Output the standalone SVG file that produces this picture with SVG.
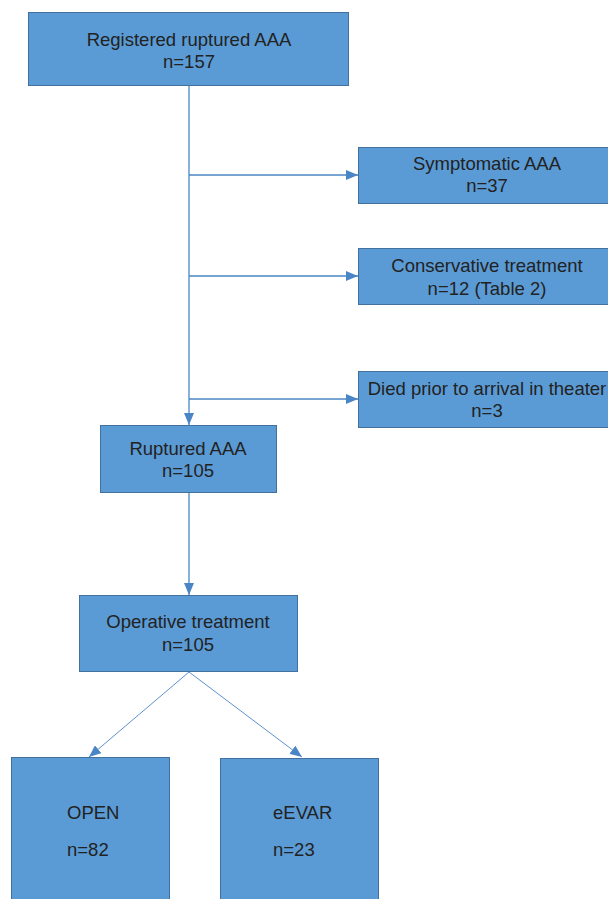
<svg xmlns="http://www.w3.org/2000/svg" width="608" height="899" viewBox="0 0 608 899">
<defs>
<style>
.box{fill:#5b9bd5;stroke:#41719c;stroke-width:1}
.t{font-family:"Liberation Sans",Arial,sans-serif;font-size:18.5px;fill:#222;text-anchor:middle}
.tl{font-family:"Liberation Sans",Arial,sans-serif;font-size:18.5px;fill:#222}
.c{stroke:#4a86c5;stroke-width:1.3;fill:none}
.d{stroke:#4a86c5;stroke-width:0.9;fill:none}
</style>
<marker id="ah" viewBox="0 0 12 10" refX="12" refY="5" markerWidth="12" markerHeight="10" markerUnits="userSpaceOnUse" orient="auto">
<path d="M0,0 L12,5 L0,10 Z" fill="#4a86c5"/>
</marker>
</defs>
<rect width="608" height="899" fill="#fff"/>
<g id="connectors">
<line class="c" x1="189" y1="85" x2="189" y2="425" marker-end="url(#ah)"/>
<line class="c" x1="189" y1="175" x2="358" y2="175" marker-end="url(#ah)"/>
<line class="c" x1="189" y1="276" x2="358" y2="276" marker-end="url(#ah)"/>
<line class="c" x1="189" y1="399" x2="358" y2="399" marker-end="url(#ah)"/>
<line class="c" x1="189" y1="492" x2="189" y2="595" marker-end="url(#ah)"/>
<line class="d" x1="189" y1="672" x2="89" y2="757" marker-end="url(#ah)"/>
<line class="d" x1="189" y1="672" x2="302" y2="757" marker-end="url(#ah)"/>
</g>
<g id="registered">
<rect class="box" x="28.5" y="12.5" width="320" height="73"/>
<text class="t" x="189" y="46">Registered ruptured AAA</text>
<text class="t" x="189" y="68">n=157</text>
</g>
<g id="symptomatic">
<rect class="box" x="358.5" y="147.5" width="252" height="56"/>
<text class="t" x="487" y="170">Symptomatic AAA</text>
<text class="t" x="487" y="192">n=37</text>
</g>
<g id="conservative">
<rect class="box" x="358.5" y="248.5" width="252" height="56"/>
<text class="t" x="487" y="272">Conservative treatment</text>
<text class="t" x="487" y="295">n=12 (Table 2)</text>
</g>
<g id="died">
<rect class="box" x="358.5" y="371.5" width="252" height="56"/>
<text class="t" x="487" y="395">Died prior to arrival in theater</text>
<text class="t" x="487" y="417">n=3</text>
</g>
<g id="ruptured">
<rect class="box" x="100.5" y="425.5" width="176" height="67"/>
<text class="t" x="188" y="455">Ruptured AAA</text>
<text class="t" x="188" y="477">n=105</text>
</g>
<g id="operative">
<rect class="box" x="79.5" y="595.5" width="218" height="76"/>
<text class="t" x="188" y="628">Operative treatment</text>
<text class="t" x="188" y="651">n=105</text>
</g>
<g id="open">
<rect class="box" x="11.5" y="757.5" width="158" height="150"/>
<text class="tl" x="67" y="819">OPEN</text>
<text class="tl" x="67" y="856">n=82</text>
</g>
<g id="eevar">
<rect class="box" x="220.5" y="758.5" width="158" height="150"/>
<text class="tl" x="273" y="819">eEVAR</text>
<text class="tl" x="273" y="856">n=23</text>
</g>
</svg>
